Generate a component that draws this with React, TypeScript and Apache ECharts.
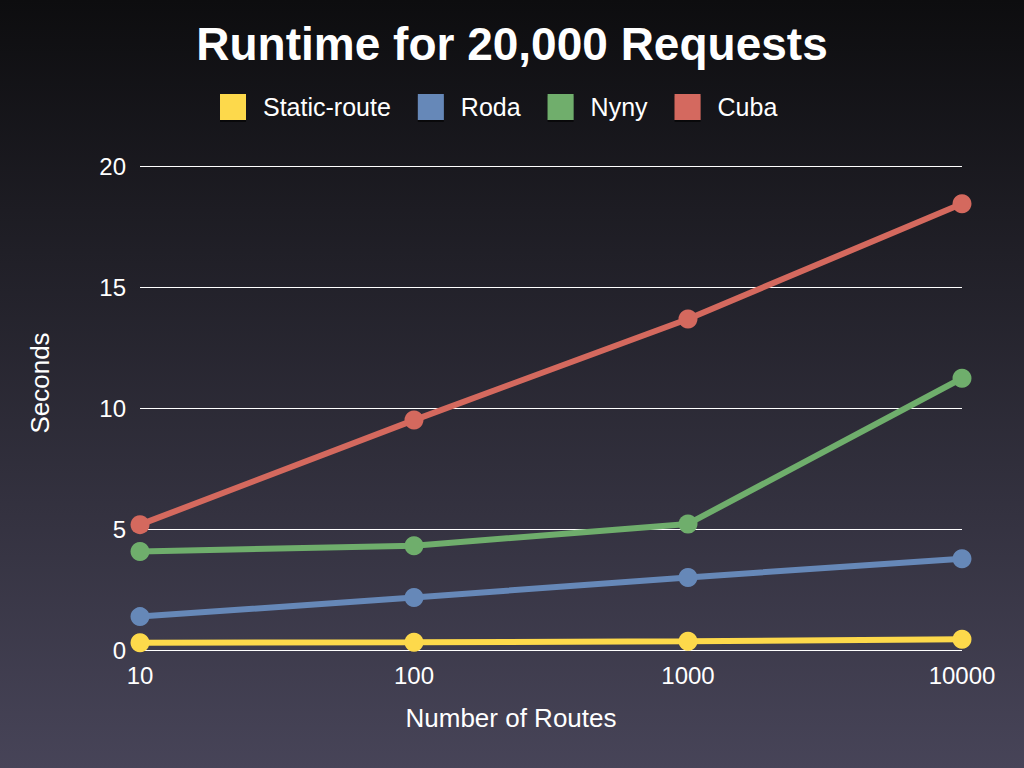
import React, { useEffect, useRef } from "react";
import * as echarts from "echarts";

const categories = ["10", "100", "1000", "10000"];
const staticRoute = [0.3, 0.32, 0.36, 0.44];
const roda = [1.38, 2.17, 3.0, 3.77];
const nyny = [4.07, 4.31, 5.21, 11.23];
const cuba = [5.18, 9.5, 13.68, 18.44];
const seriesNames = ["Static-route", "Roda", "Nyny", "Cuba"];
const colors = ["#fdd94b", "#6688b8", "#6fae6c", "#d4695e"];

export default function App() {
  const ref = useRef<HTMLDivElement>(null);
  useEffect(() => {
    if (!ref.current) return;
    const chart = echarts.init(ref.current, undefined, { renderer: "svg" });
    const font = "Liberation Sans";
    const data = [staticRoute, roda, nyny, cuba];
    chart.setOption({
      animation: false,
      backgroundColor: new echarts.graphic.LinearGradient(0, 0, 0, 1, [
        { offset: 0, color: "#0d0d0f" },
        { offset: 1, color: "#474458" },
      ]),
      color: colors,
      textStyle: { fontFamily: font },
      title: {
        text: "Runtime for 20,000 Requests",
        left: "center",
        top: 16,
        textStyle: { color: "#ffffff", fontSize: 46, fontWeight: "bold", fontFamily: font },
      },
      legend: {
        top: 89,
        left: 215,
        icon: "rect",
        itemWidth: 26,
        itemHeight: 26,
        itemGap: 27,
        data: seriesNames,
        itemStyle: { shadowColor: "rgba(0,0,0,0.6)", shadowOffsetY: 2, shadowBlur: 1 },
        textStyle: { color: "#ffffff", fontSize: 25, fontFamily: font, padding: [0, 0, 0, 12] },
      },
      grid: { left: 140, right: 62, top: 166, bottom: 118, containLabel: false },
      xAxis: {
        type: "category",
        data: categories,
        boundaryGap: false,
        name: "Number of Routes",
        nameLocation: "middle",
        nameGap: 55,
        nameTextStyle: { color: "#ffffff", fontSize: 26, fontFamily: font, padding: [0, 80, 0, 0] },
        axisLine: { show: false },
        axisTick: { show: false },
        axisLabel: { color: "#ffffff", fontSize: 24, margin: 13, fontFamily: font },
        splitLine: { show: false },
      },
      yAxis: {
        type: "value",
        min: 0,
        max: 20,
        interval: 5,
        name: "Seconds",
        nameLocation: "middle",
        nameGap: 87,
        nameTextStyle: { color: "#ffffff", fontSize: 26, fontFamily: font, padding: [0, 0, 0, 50] },
        axisLine: { show: false },
        axisTick: { show: false },
        axisLabel: { color: "#ffffff", fontSize: 24, margin: 14, fontFamily: font },
        splitLine: { show: true, lineStyle: { color: "#ffffff", width: 1 } },
      },
      series: seriesNames.map((name, i) => ({
        name,
        type: "line",
        data: data[i],
        symbol: "circle",
        symbolSize: 19,
        lineStyle: { width: 6, color: colors[i] },
        itemStyle: { color: colors[i] },
        z: 2 + i,
      })),
    });
    return () => chart.dispose();
  }, []);
  return <div ref={ref} style={{ position: "fixed", left: 0, top: 0, width: 1024, height: 768 }} />;
}
